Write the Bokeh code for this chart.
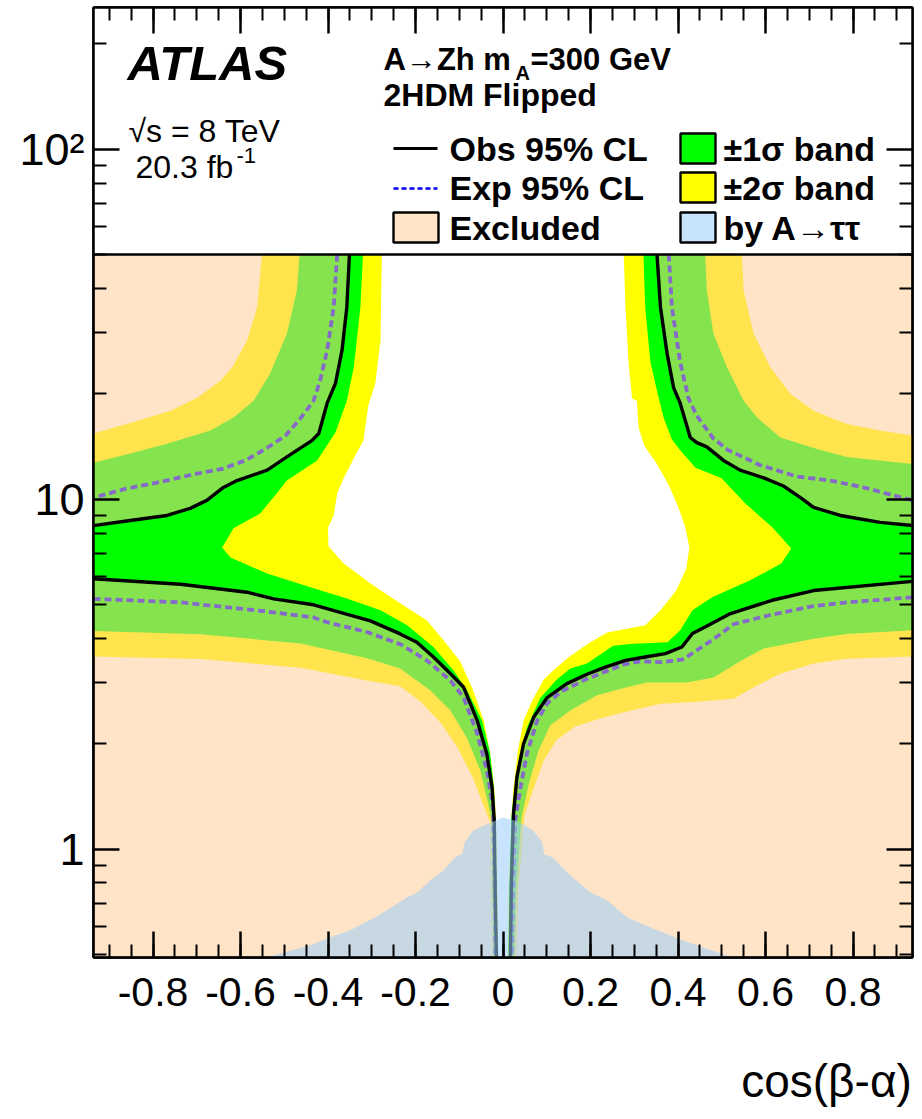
import math
from bokeh.plotting import figure
from bokeh.models import (Range1d, LinearAxis, LogAxis, FixedTicker, Label,
                          CustomJSTickFormatter)
from bokeh.embed import file_html
from bokeh.resources import INLINE

# ---------------------------------------------------------------------------
# Plot ranges: cos(beta-alpha) horizontally, tan(beta) (log) vertically
# ---------------------------------------------------------------------------
XMIN, XMAX = -0.936, 0.936
YMIN, YMAX = 0.49, 254.0
TANB_KEY = 50.0          # the key box covers tan(beta) above this value

XTICKS = [-0.8, -0.6, -0.4, -0.2, 0.0, 0.2, 0.4, 0.6, 0.8]
XMINOR = [round(-0.9 + 0.05 * i, 2) for i in range(37)]
YTICKS = [1, 10, 100]
YMINOR = [0.5, 0.6, 0.7, 0.8, 0.9, 2, 3, 4, 5, 6, 7, 8, 9,
          20, 30, 40, 50, 60, 70, 80, 90, 200]
X_TITLE = "cos(\u03b2-\u03b1)"

# ---------------------------------------------------------------------------
# Observed 95% CL limit (four branches; "u" = upper, "l" = lower)
# ---------------------------------------------------------------------------
obs_lu_x = [-0.351, -0.357, -0.368, -0.383, -0.402, -0.421, -0.437, -0.459, -0.494,
            -0.539, -0.608, -0.639, -0.677, -0.715, -0.768, -0.852, -0.936]
obs_lu_y = [50, 35.3, 26.6, 21.4, 18.8, 15.4, 14.7, 14.1, 13.2,
            12.1, 11.3, 10.8, 9.92, 9.41, 8.98, 8.69, 8.40]
obs_ll_x = [-0.936, -0.737, -0.585, -0.524, -0.433, -0.372, -0.303, -0.235, -0.197,
            -0.159, -0.120, -0.090, -0.059, -0.037, -0.025, -0.020, -0.018, -0.015]
obs_ll_y = [5.92, 5.71, 5.42, 5.19, 4.99, 4.75, 4.49, 4.12, 3.90,
            3.54, 3.17, 2.90, 2.33, 1.87, 1.50, 1.21, 0.779, 0.49]
obs_rl_x = [0.936, 0.710, 0.615, 0.520, 0.462, 0.433, 0.409, 0.371, 0.325, 0.280,
            0.234, 0.192, 0.146, 0.101, 0.070, 0.047, 0.032, 0.024, 0.019, 0.017]
obs_rl_y = [5.82, 5.48, 5.14, 4.71, 4.31, 4.13, 3.78, 3.62, 3.54, 3.46,
            3.31, 3.16, 2.97, 2.71, 2.38, 2.00, 1.61, 1.26, 0.779, 0.49]
obs_ru_x = [0.352, 0.360, 0.375, 0.390, 0.405, 0.428, 0.443, 0.466, 0.504,
            0.542, 0.596, 0.641, 0.680, 0.710, 0.771, 0.862, 0.936]
obs_ru_y = [50, 35.3, 26.1, 20.8, 18.8, 15.0, 14.5, 14.1, 12.9,
            12.1, 11.5, 10.9, 10.1, 9.47, 8.98, 8.58, 8.41]

# ---------------------------------------------------------------------------
# Expected 95% CL limit
# ---------------------------------------------------------------------------
exp_lu_x = [-0.379, -0.387, -0.402, -0.418, -0.433, -0.463, -0.497, -0.543,
            -0.589, -0.642, -0.703, -0.783, -0.863, -0.936]
exp_lu_y = [50, 35.3, 26.6, 21.8, 19.1, 17.0, 15.2, 13.9,
            12.9, 12.2, 11.8, 11.2, 10.7, 10.1]
exp_ll_x = [-0.936, -0.737, -0.692, -0.543, -0.433, -0.402, -0.311, -0.235,
            -0.174, -0.120, -0.090, -0.059, -0.037, -0.023, -0.019, -0.018]
exp_ll_y = [5.19, 5.07, 5.00, 4.78, 4.59, 4.45, 4.17, 3.85,
            3.46, 3.03, 2.71, 2.14, 1.68, 1.32, 0.779, 0.49]
exp_rl_x = [0.936, 0.786, 0.710, 0.606, 0.527, 0.480, 0.436, 0.410, 0.362, 0.314, 0.276,
            0.230, 0.188, 0.133, 0.101, 0.078, 0.055, 0.040, 0.028, 0.023, 0.021]
exp_rl_y = [5.24, 5.07, 4.95, 4.65, 4.39, 3.97, 3.65, 3.48, 3.42, 3.44, 3.37,
            3.20, 3.05, 2.82, 2.61, 2.33, 1.88, 1.50, 1.21, 0.77, 0.49]
exp_ru_x = [0.379, 0.386, 0.405, 0.424, 0.443, 0.481, 0.515, 0.588, 0.672, 0.748, 0.824, 0.936]
exp_ru_y = [50, 35.3, 24.6, 19.4, 17.3, 14.9, 13.8, 12.5, 11.6, 11.3, 10.8, 9.92]

# ---------------------------------------------------------------------------
# Band edges, each traced from the key down to the bottom of the plot.
# "outer" edges lie on the excluded side of the expected limit, "inner" edges
# on the allowed side.
# ---------------------------------------------------------------------------
s2_out_l_x = [-0.551, -0.562, -0.585, -0.619, -0.646, -0.699, -0.760, -0.844, -0.936,
              -0.936, -0.692, -0.463, -0.311, -0.235, -0.189, -0.143, -0.104, -0.068,
              -0.040, -0.029, -0.027, -0.024]
s2_out_l_y = [50, 35.3, 28.4, 23.8, 21.8, 19.5, 17.9, 16.6, 15.4,
              3.55, 3.49, 3.30, 3.03, 2.92, 2.64, 2.30, 1.95, 1.59,
              1.29, 1.19, 0.762, 0.49]
s2_out_r_x = [0.546, 0.550, 0.573, 0.611, 0.657, 0.710, 0.786, 0.862, 0.936,
              0.936, 0.786, 0.710, 0.634, 0.573, 0.527, 0.436, 0.360, 0.276, 0.222,
              0.165, 0.122, 0.093, 0.070, 0.049, 0.035, 0.030]
s2_out_r_y = [50, 39.5, 29.7, 23.8, 20.0, 17.9, 16.4, 15.7, 15.2,
              3.55, 3.50, 3.39, 3.17, 2.90, 2.69, 2.63, 2.60, 2.46, 2.36,
              2.24, 2.05, 1.79, 1.49, 1.25, 0.762, 0.49]

s1_out_l_x = [-0.465, -0.471, -0.494, -0.532, -0.570, -0.616, -0.669, -0.768, -0.852, -0.936,
              -0.936, -0.692, -0.463, -0.311, -0.235, -0.166, -0.120, -0.082, -0.052,
              -0.034, -0.025, -0.024, -0.022]
s1_out_l_y = [50, 39.5, 29.7, 22.9, 19.1, 17.1, 15.7, 14.4, 13.5, 12.7,
              4.20, 4.11, 3.87, 3.51, 3.28, 2.84, 2.49, 2.07, 1.68,
              1.35, 1.19, 0.762, 0.49]
s1_out_r_x = [0.462, 0.466, 0.481, 0.512, 0.550, 0.581, 0.634, 0.710, 0.786, 0.936,
              0.936, 0.786, 0.710, 0.596, 0.542, 0.481, 0.421, 0.329, 0.283, 0.215,
              0.154, 0.108, 0.081, 0.058, 0.042, 0.030, 0.026]
s1_out_r_y = [50, 39.5, 29.7, 23.8, 19.1, 17.1, 15.0, 14.0, 13.2, 12.6,
              4.22, 4.12, 3.99, 3.74, 3.44, 3.09, 2.99, 2.99, 2.90, 2.75,
              2.49, 2.26, 1.91, 1.52, 1.22, 0.762, 0.49]

s1_in_l_x = [-0.320, -0.326, -0.341, -0.357, -0.383, -0.425, -0.494, -0.517, -0.555,
             -0.616, -0.642, -0.623, -0.539, -0.433, -0.357, -0.280, -0.219, -0.159,
             -0.113, -0.082, -0.048, -0.029, -0.021, -0.018, -0.015, -0.013]
s1_in_l_y = [50, 35.3, 23.8, 19.1, 15.5, 12.9, 11.3, 10.4, 9.10,
             8.25, 7.28, 6.81, 6.13, 5.56, 5.20, 4.81, 4.36, 3.78,
             3.24, 2.84, 2.33, 1.88, 1.50, 1.23, 0.762, 0.49]
s1_in_r_x = [0.321, 0.325, 0.337, 0.352, 0.367, 0.386, 0.405, 0.440, 0.499, 0.554,
             0.616, 0.659, 0.636, 0.565, 0.478, 0.433, 0.405, 0.376, 0.298, 0.252,
             0.222, 0.192, 0.154, 0.123, 0.085, 0.055, 0.037, 0.026, 0.018, 0.014, 0.012]
s1_in_r_y = [50, 35.3, 24.6, 20.4, 17.1, 14.8, 13.8, 12.3, 11.5, 9.72,
             8.30, 7.23, 6.55, 5.86, 5.24, 4.81, 4.22, 3.90, 3.86, 3.81,
             3.60, 3.39, 3.28, 3.05, 2.70, 2.23, 1.83, 1.47, 1.21, 0.762, 0.49]

s2_in_l_x = [-0.277, -0.280, -0.292, -0.308, -0.319, -0.338, -0.364, -0.379, -0.387,
             -0.400, -0.399, -0.364, -0.303, -0.235, -0.174, -0.136, -0.098, -0.071,
             -0.044, -0.029, -0.020, -0.016, -0.013, -0.011]
s2_in_l_y = [50, 28.4, 21.4, 18.5, 14.7, 13.3, 11.5, 10.4, 8.98,
             8.30, 7.33, 6.55, 5.74, 5.04, 4.50, 3.95, 3.44, 2.90,
             2.33, 1.88, 1.50, 1.21, 0.762, 0.49]
s2_in_r_x = [0.276, 0.280, 0.287, 0.295, 0.306, 0.310, 0.323, 0.350, 0.380, 0.401,
             0.417, 0.426, 0.419, 0.396, 0.360, 0.325, 0.238, 0.195, 0.149, 0.120,
             0.093, 0.067, 0.047, 0.034, 0.024, 0.019, 0.013, 0.011]
s2_in_r_y = [50, 35.3, 24.6, 19.4, 19.1, 16.0, 14.2, 12.7, 10.9, 9.47,
             8.30, 7.28, 6.34, 5.48, 4.81, 4.36, 4.16, 3.87, 3.53, 3.28,
             3.05, 2.66, 2.33, 1.91, 1.50, 1.23, 0.762, 0.49]

# ---------------------------------------------------------------------------
# Region excluded by A -> tautau (upper edge)
# ---------------------------------------------------------------------------
tautau_x = [-0.543, -0.440, -0.395, -0.349, -0.296, -0.258, -0.219, -0.196, -0.166,
            -0.136, -0.109, -0.093, -0.088, -0.068, -0.029, 0.001, 0.033, 0.069,
            0.090, 0.094, 0.113, 0.147, 0.200, 0.238, 0.284, 0.337, 0.412, 0.490, 0.524]
tautau_y = [0.49, 0.531, 0.560, 0.586, 0.634, 0.677, 0.728, 0.752, 0.814,
            0.869, 0.947, 0.972, 1.045, 1.13, 1.19, 1.23, 1.20, 1.13,
            1.045, 0.966, 0.947, 0.856, 0.752, 0.714, 0.638, 0.597, 0.548, 0.507, 0.49]

# ---------------------------------------------------------------------------
# Colours and fonts
# ---------------------------------------------------------------------------
YELLOW = "#FFFF00"
GREEN = "#00FF00"
EXCL_COLOR, EXCL_ALPHA = "#FFCB95", 0.52
TAU_COLOR, TAU_ALPHA = "#9BCEFA", 0.55
EXP_COLOR = "#0000FF"
SANS = "Liberation Sans"

# ---------------------------------------------------------------------------
# Page geometry (pixels) and helpers mapping page pixels to data coordinates
# ---------------------------------------------------------------------------
W, H = 922, 1119
FL, FR, FT, FB = 93, 912, 7, 957
LOG_LO, LOG_HI = math.log10(YMIN), math.log10(YMAX)


def xd(px):
    return XMIN + (px - FL) * (XMAX - XMIN) / (FR - FL)


def yd(py):
    return 10 ** (LOG_HI - (py - FT) * (LOG_HI - LOG_LO) / (FB - FT))


def region(lx, ly, rx, ry):
    """Polygon enclosed by a left and a right contour (both traced top to bottom)."""
    return list(lx) + list(rx)[::-1], list(ly) + list(ry)[::-1]


p = figure(width=W, height=H,
           x_range=Range1d(XMIN, XMAX), y_range=Range1d(YMIN, YMAX),
           y_axis_type="log", output_backend="svg", toolbar_location=None,
           min_border_left=FL, min_border_right=W - FR,
           min_border_top=FT, min_border_bottom=H - FB,
           background_fill_color="white", border_fill_color="white")
p.grid.visible = False
p.outline_line_color = "black"
p.outline_line_width = 2.5

# --- bands: +-2 sigma, +-1 sigma, then the allowed interior -----------------
for (lx, ly, rx, ry), col in [
        ((s2_out_l_x, s2_out_l_y, s2_out_r_x, s2_out_r_y), YELLOW),
        ((s1_out_l_x, s1_out_l_y, s1_out_r_x, s1_out_r_y), GREEN),
        ((s1_in_l_x, s1_in_l_y, s1_in_r_x, s1_in_r_y), YELLOW),
        ((s2_in_l_x, s2_in_l_y, s2_in_r_x, s2_in_r_y), "white")]:
    xs, ys = region(lx, ly, rx, ry)
    p.patch(xs, ys, fill_color=col, line_color=None)

# --- expected limit -----------------------------------------------------------
p.multi_line([exp_lu_x, exp_ll_x, exp_rl_x, exp_ru_x],
             [exp_lu_y, exp_ll_y, exp_rl_y, exp_ru_y],
             line_color=EXP_COLOR, line_width=3.8, line_dash="7 4")

# --- observed exclusion (translucent fill) ----------------------------------
y_below = YMIN * 0.8
excl_xs = [[XMIN] + obs_lu_x,
           obs_ll_x + [obs_ll_x[-1], XMIN],
           obs_rl_x + [obs_rl_x[-1], XMAX],
           [XMAX] + obs_ru_x]
excl_ys = [[TANB_KEY] + obs_lu_y,
           obs_ll_y + [y_below, y_below],
           obs_rl_y + [y_below, y_below],
           [TANB_KEY] + obs_ru_y]
p.patches(excl_xs, excl_ys, fill_color=EXCL_COLOR, fill_alpha=EXCL_ALPHA, line_color=None)

# --- observed limit ------------------------------------------------------------
p.multi_line([obs_lu_x, obs_ll_x, obs_rl_x, obs_ru_x],
             [obs_lu_y, obs_ll_y, obs_rl_y, obs_ru_y],
             line_color="black", line_width=3.4)

# --- A -> tautau exclusion --------------------------------------------------
p.patch(tautau_x + [tautau_x[-1], tautau_x[0]], tautau_y + [y_below, y_below],
        fill_color=TAU_COLOR, fill_alpha=TAU_ALPHA, line_color=None)

# --- key box ----------------------------------------------------------------
p.quad(left=XMIN, right=XMAX, bottom=TANB_KEY, top=YMAX, fill_color="white", line_color=None)
p.line([XMIN, XMAX], [TANB_KEY, TANB_KEY], line_color="black", line_width=2.5)

# line swatches
p.line([xd(393), xd(437)], [yd(148), yd(148)], line_color="black", line_width=2.8)
p.line([xd(393), xd(437)], [yd(188), yd(188)], line_color=EXP_COLOR, line_width=2.5,
       line_dash="5 3")
# box swatches
p.quad(left=[xd(393)], right=[xd(438)], bottom=[yd(242)], top=[yd(212)],
       fill_color=EXCL_COLOR, fill_alpha=EXCL_ALPHA, line_color="black", line_width=2.4)
p.quad(left=[xd(680)], right=[xd(715)], bottom=[yd(163)], top=[yd(133)],
       fill_color=GREEN, line_color="black", line_width=2.4)
p.quad(left=[xd(680)], right=[xd(715)], bottom=[yd(202)], top=[yd(172)],
       fill_color=YELLOW, line_color="black", line_width=2.4)
p.quad(left=[xd(680)], right=[xd(715)], bottom=[yd(242)], top=[yd(212)],
       fill_color=TAU_COLOR, fill_alpha=TAU_ALPHA, line_color="black", line_width=2.4)


def text(px, py, s, size, style="normal", align="left"):
    """Text whose vertical middle sits at page row py."""
    p.add_layout(Label(x=xd(px), y=yd(py), text=s, text_font=SANS,
                       text_font_size=f"{size}px", text_font_style=style,
                       text_align=align, text_baseline="middle",
                       text_color="black"))


text(449, 148, "Obs 95% CL", 34, "bold")
text(449, 187, "Exp 95% CL", 34, "bold")
text(449, 227, "Excluded", 34, "bold")
text(723, 148, "\u00b11\u03c3 band", 34, "bold")
text(723, 187, "\u00b12\u03c3 band", 34, "bold")
text(723, 227, "by A\u2192\u03c4\u03c4", 34, "bold")

text(383, 59, "A\u2192Zh m", 31, "bold")
text(515, 72, "A", 20, "bold")
text(530, 59, "=300 GeV", 31, "bold")
text(383, 94, "2HDM Flipped", 32, "bold")

text(127, 62.5, "ATLAS", 49, "bold italic")
text(128, 130, "\u221as = 8 TeV", 32)
text(135, 166.5, "20.3 fb", 32)
text(236, 155, "-1", 22)

# --- axes -------------------------------------------------------------------
blank = CustomJSTickFormatter(code="return ''")


def style_axis(ax, ticker):
    ax.ticker = ticker
    ax.axis_line_width = 2.5
    ax.axis_line_color = "black"
    ax.major_tick_line_color = "black"
    ax.minor_tick_line_color = "black"
    ax.major_tick_line_width = 2.5
    ax.minor_tick_line_width = 2.0
    ax.major_tick_in = 26
    ax.major_tick_out = 0
    ax.minor_tick_in = 13
    ax.minor_tick_out = 0


x_ticker = FixedTicker(ticks=XTICKS, minor_ticks=XMINOR)
y_ticker = FixedTicker(ticks=YTICKS, minor_ticks=YMINOR)

xa = p.xaxis[0]
style_axis(xa, x_ticker)
xa.formatter = CustomJSTickFormatter(code="return tick == 0 ? '0' : tick.toFixed(1)")
xa.major_label_text_font = SANS
xa.major_label_text_font_size = "41px"
xa.major_label_standoff = 20
xa.major_label_text_color = "black"

ya = p.yaxis[0]
style_axis(ya, y_ticker)
ya.formatter = CustomJSTickFormatter(
    code="return tick > 50 ? '10\u00b2' : String(Math.round(tick))")
ya.major_label_text_font = SANS
ya.major_label_text_font_size = "45px"
ya.major_label_standoff = 9
ya.major_label_text_color = "black"

top_axis = LinearAxis(formatter=blank, major_label_text_font_size="0px")
style_axis(top_axis, x_ticker)
p.add_layout(top_axis, "above")
right_axis = LogAxis(formatter=blank, major_label_text_font_size="0px")
style_axis(right_axis, y_ticker)
p.add_layout(right_axis, "right")

# axis title, carried by a bare axis whose only label sits under the right end
title_axis = LinearAxis(
    ticker=FixedTicker(ticks=[xd(826)], minor_ticks=[]),
    formatter=CustomJSTickFormatter(code=f"return '{X_TITLE}'"),
    axis_line_color=None, major_tick_line_color=None, minor_tick_line_color=None,
    major_label_standoff=40, major_label_text_font=SANS,
    major_label_text_font_size="46px", major_label_text_color="black")
p.add_layout(title_axis, "below")

open("out.html", "w").write(file_html(p, INLINE))
